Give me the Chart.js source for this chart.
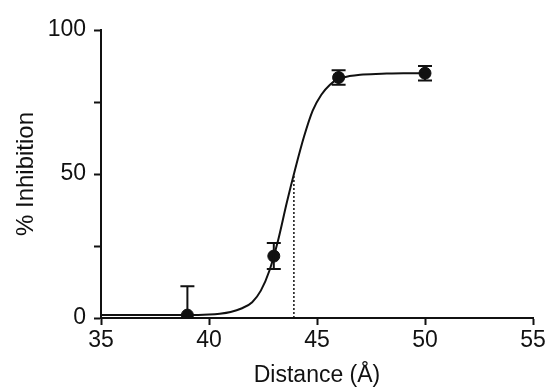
<!DOCTYPE html>
<html lang="en">
<head>
  <meta charset="UTF-8">
  <title>% Inhibition vs Distance</title>
  <style>
    body {
      margin: 0;
      padding: 0;
      background: #fff;
    }
    .chart-box {
      width: 554px;
      height: 392px;
    }
  </style>
</head>
<body>
  <div class="chart-box">
    <canvas id="chart" width="554" height="392"></canvas>
  </div>

  <script src="https://cdn.jsdelivr.net/npm/chart.js"></script>
  <script>
    // measured points (mean +/- error)
    const distances = [39, 43, 46, 50];
    const inhibition = [1, 21.5, 83.5, 85];
    const errors = [10, 4.5, 2.5, 2.5];

    // fitted curve
    const curveX = [35, 37, 39, 40, 40.5, 41, 41.5, 42, 42.4, 42.8, 43.2, 43.6, 44, 44.4, 44.8, 45.2, 45.6, 46, 46.5, 47, 48, 49, 50];
    const curveY = [1, 1, 1, 1.2, 1.5, 2.1, 3.3, 5.5, 9.5, 16.5, 27, 40, 52, 63, 72, 77.5, 81, 83, 84, 84.5, 84.8, 85, 85];

    // dotted marker for the half-point
    const halfX = 43.93;
    const halfY = 50;

    const xTicks = [35, 40, 45, 50, 55];
    const yLabels = [0, 50, 100];

    const ink = '#111';

    // error bars drawn with the chart's own scales
    const errorBars = {
      id: 'errorBars',
      afterDatasetsDraw(chart) {
        const { ctx, chartArea, scales: { x, y } } = chart;
        ctx.save();
        ctx.beginPath();
        ctx.rect(chartArea.left, chartArea.top - 10, chartArea.right - chartArea.left, chartArea.bottom - chartArea.top + 10);
        ctx.clip();
        ctx.strokeStyle = ink;
        ctx.lineWidth = 2;
        distances.forEach((d, i) => {
          const px = x.getPixelForValue(d);
          const hi = y.getPixelForValue(inhibition[i] + errors[i]);
          const lo = y.getPixelForValue(inhibition[i] - errors[i]);
          ctx.beginPath();
          ctx.moveTo(px, hi);
          ctx.lineTo(px, lo);
          ctx.moveTo(px - 7, hi);
          ctx.lineTo(px + 7, hi);
          ctx.moveTo(px - 7, lo);
          ctx.lineTo(px + 7, lo);
          ctx.stroke();
        });
        ctx.restore();
      }
    };

    const tickFont = { family: "'Liberation Sans', Arial, sans-serif", size: 23 };

    new Chart(document.getElementById('chart'), {
      type: 'scatter',
      data: {
        datasets: [
          {
            label: 'half',
            data: [{ x: halfX, y: 0 }, { x: halfX, y: halfY }],
            showLine: true,
            borderColor: ink,
            borderWidth: 1.5,
            borderDash: [2, 2],
            pointRadius: 0
          },
          {
            label: 'fit',
            data: curveX.map((v, i) => ({ x: v, y: curveY[i] })),
            showLine: true,
            borderColor: ink,
            borderWidth: 2,
            cubicInterpolationMode: 'monotone',
            pointRadius: 0
          },
          {
            label: 'data',
            data: distances.map((v, i) => ({ x: v, y: inhibition[i] })),
            pointRadius: 6,
            pointBackgroundColor: ink,
            pointBorderColor: ink
          }
        ]
      },
      options: {
        responsive: false,
        animation: false,
        layout: { padding: { top: 30, right: 21, left: 0, bottom: 0 } },
        plugins: {
          legend: { display: false },
          tooltip: { enabled: false }
        },
        scales: {
          x: {
            type: 'linear',
            min: 35,
            max: 55,
            afterBuildTicks: s => { s.ticks = xTicks.map(v => ({ value: v })); },
            afterFit: s => { s.height = 74; },
            ticks: { font: tickFont, color: ink, padding: 2 },
            grid: { drawOnChartArea: false, tickLength: 7, tickColor: ink, tickWidth: 2 },
            border: { color: ink, width: 2 },
            title: {
              display: true,
              text: 'Distance (Å)',
              font: tickFont,
              color: ink,
              padding: { top: 0, bottom: 3 }
            }
          },
          y: {
            min: 0,
            max: 100,
            ticks: {
              stepSize: 25,
              font: tickFont,
              color: ink,
              padding: 8,
              callback: v => yLabels.includes(v) ? v : ''
            },
            afterFit: s => { s.width = 101; },
            grid: { drawOnChartArea: false, tickLength: 7, tickColor: ink, tickWidth: 2 },
            border: { color: ink, width: 2 },
            title: {
              display: true,
              text: '% Inhibition',
              font: { family: "'Liberation Sans', Arial, sans-serif", size: 24 },
              color: ink,
              padding: { top: 12, bottom: 0 }
            }
          }
        }
      },
      plugins: [errorBars]
    });
  </script>
</body>
</html>
